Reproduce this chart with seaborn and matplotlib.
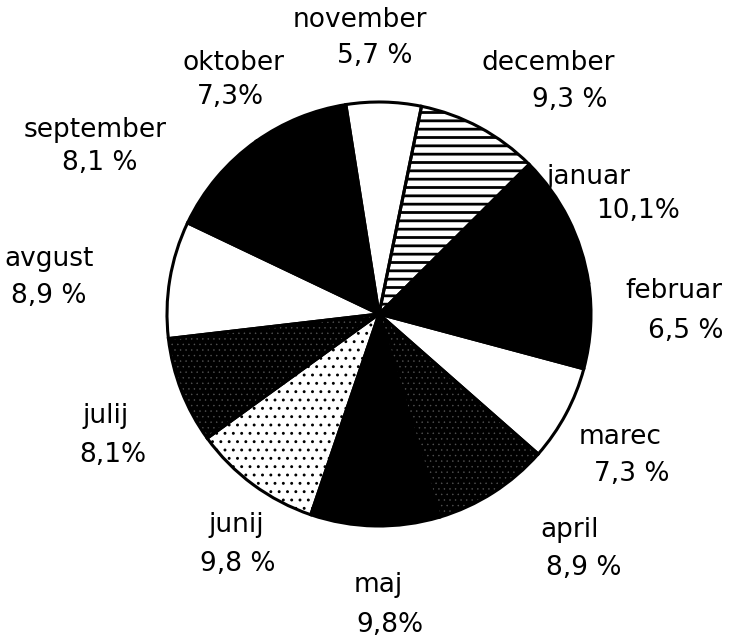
import matplotlib
matplotlib.use("Agg")
import matplotlib.pyplot as plt
import seaborn as sns

# Monthly shares (%) going clockwise from the top
months = ["november", "december", "januar", "februar", "marec", "april",
          "maj", "junij", "julij", "avgust", "september", "oktober"]
shares = [5.7, 9.3, 10.1, 6.5, 7.3, 8.9, 9.8, 9.8, 8.1, 8.9, 8.1, 7.3]
pct_labels = ["5,7 %", "9,3 %", "10,1%", "6,5 %", "7,3 %", "8,9 %",
              "9,8%", "9,8 %", "8,1%", "8,9 %", "8,1 %", "7,3%"]

# fill styles per month
faces = ["white", "white", "black", "black", "white", "black",
         "black", "white", "black", "white", "black", "black"]
hatch_cols = ["black", "black", "black", "black", "black", "#555555",
              "black", "black", "#555555", "black", "black", "black"]
hatches = [None, "--", None, None, None, "...", None, "..", "...", None, None, None]
hatch_lw = [1, 2.0, 1, 1, 1, 0.3, 1, 0.9, 0.3, 1, 1, 1]

# label anchor points in pixels (name, percentage)
name_pos = [(360, 20), (548, 63), (588, 177), (674, 291), (620, 437), (570, 530),
            (378, 585), (236, 525), (106, 416), (49, 259), (95, 130), (233, 63)]
pct_pos = [(375, 56), (570, 100), (638, 211), (686, 331), (632, 474), (584, 568),
           (390, 625), (238, 564), (113, 455), (49, 296), (100, 163), (230, 97)]

sns.set_theme(style="white")
plt.rcParams["font.family"] = ["DejaVu Sans"]
plt.rcParams["hatch.linewidth"] = 1.0

W, H = 742, 640
fig = plt.figure(figsize=(7.42, 6.4), dpi=100)
ax = fig.add_axes([0, 0, 1, 1])

cx, cy, r = 379, H - 314, 212

# fills (hatch colour follows edge colour)
wedges, _ = ax.pie(shares, startangle=99, counterclock=False,
                   center=(cx, cy), radius=r, frame=True,
                   colors=faces,
                   wedgeprops=dict(linewidth=0))
for w, h, hc, hl in zip(wedges, hatches, hatch_cols, hatch_lw):
    w.set_edgecolor(hc)
    if h:
        w.set_hatch(h)
        if hasattr(w, "set_hatch_linewidth"):
            w.set_hatch_linewidth(hl)

# outlines on top
ax.pie(shares, startangle=99, counterclock=False,
       center=(cx, cy), radius=r, frame=True,
       colors=["none"] * len(shares),
       wedgeprops=dict(linewidth=2.2, edgecolor="black", fill=False))

for name, pct, (nx, ny), (px, py) in zip(months, pct_labels, name_pos, pct_pos):
    ax.text(nx, H - ny, name, ha="center", va="center", fontsize=19,
            color="black")
    ax.text(px, H - py, pct, ha="center", va="center", fontsize=19,
            color="black")

ax.set_xlim(0, W)
ax.set_ylim(0, H)
ax.set_aspect("equal")
ax.axis("off")

fig.savefig("out.png", dpi=100, facecolor="white")
